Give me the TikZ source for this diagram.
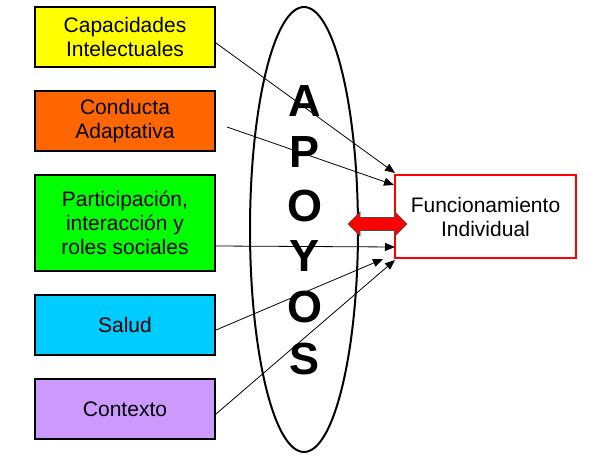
\documentclass[tikz,border=0pt]{standalone}
\usepackage{fontspec}
\setmainfont{Liberation Sans}
\usetikzlibrary{arrows.meta}
\definecolor{cyel}{HTML}{FFFF00}
\definecolor{cora}{HTML}{FF6600}
\definecolor{cgre}{HTML}{00FF00}
\definecolor{cblu}{HTML}{00CCFF}
\definecolor{cpur}{HTML}{CC99FF}
\definecolor{cred}{HTML}{FF0000}
\begin{document}
\begin{tikzpicture}[x=1pt,y=-1pt,
  factor/.style={draw=black,line width=2pt,minimum width=180pt,align=center,
    font=\fontsize{21}{24}\selectfont,inner sep=0pt},
  conn/.style={line width=0.8pt,-{Triangle[length=10pt,width=8pt]}},
  letter/.style={font=\fontsize{45}{45}\selectfont\bfseries,inner sep=0pt}]
\useasboundingbox (0,0) rectangle (597,473);
\node[factor,fill=cyel,minimum height=60pt] (cap) at (125,37) {Capacidades\\Intelectuales};
\node[factor,fill=cora,minimum height=60pt] (con) at (125,121) {Conducta\\Adaptativa};
\node[factor,fill=cgre,minimum height=96pt] (par) at (125,223) {Participación,\\interacción y\\roles sociales};
\node[factor,fill=cblu,minimum height=60pt] (sal) at (125,325) {Salud};
\node[factor,fill=cpur,minimum height=60pt] (ctx) at (125,409) {Contexto};
\draw[line width=2pt] (304,229.5) ellipse [x radius=54, y radius=222.5];
\node[letter] (l1) at (305,101) {A};
\node[letter] (l2) at (305,152.5) {P};
\node[letter] (l3) at (305,206) {O};
\node[letter] (l4) at (305,256.5) {Y};
\node[letter] (l5) at (305,307.5) {O};
\node[letter] (l6) at (305,359.5) {S};
\node[draw=cred,line width=2pt,minimum width=181pt,minimum height=83pt,inner sep=0pt,
  align=center,font=\fontsize{21}{24}\selectfont] (fun) at (485.5,216.5) {Funcionamiento\\Individual};
\coordinate (c2) at (227,127);
\coordinate (e1) at (395,173);
\coordinate (e2) at (394,185);
\coordinate (e3) at (395,247);
\coordinate (e4) at (383,259);
\coordinate (e5) at (395,260);
\draw[conn] ([yshift=-6pt]cap.east) -- (e1);
\draw[conn] (c2) -- (e2);
\draw[conn] ([yshift=-23pt]par.east) -- (e3);
\draw[conn] ([yshift=-5pt]sal.east) -- (e4);
\draw[conn] ([yshift=-5pt]ctx.east) -- (e5);
\draw[fill=cred,draw=black!70,line width=0.6pt]
  (348,224) -- (360,212) -- (360,217.5) -- (395,217.5) -- (395,212) -- (407,224)
  -- (395,236) -- (395,230.5) -- (360,230.5) -- (360,236) -- cycle;
\end{tikzpicture}
\end{document}
